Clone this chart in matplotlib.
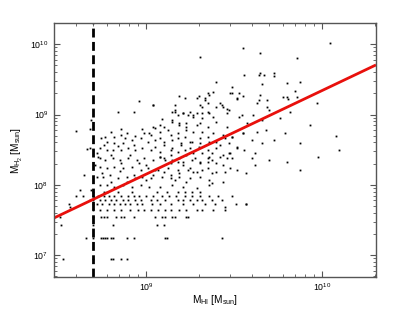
import numpy as np
import matplotlib
matplotlib.use('Agg')
import matplotlib.pyplot as plt
from matplotlib.ticker import NullFormatter, LogLocator

plt.rcParams['font.family'] = ['Liberation Sans', 'DejaVu Sans']
plt.rcParams['mathtext.fontset'] = 'custom'
plt.rcParams['mathtext.rm'] = 'Liberation Sans'
plt.rcParams['mathtext.it'] = 'Liberation Sans:italic'

# continuous part of the cloud, (log10 M_HI, log10 M_H2)
upper_pts = [
    (9.31, 9.82), (9.55, 9.95), (9.65, 9.88), (10.045, 10.02), (9.86, 9.81),
    (8.96, 9.195), (8.84, 9.04), (8.93, 9.04), (9.04, 9.14), (9.40, 9.465),
    (9.56, 9.565), (9.64, 9.565), (9.65, 9.59), (9.67, 9.565), (9.73, 9.59),
    (9.73, 9.55), (9.66, 9.44), (9.80, 9.45), (9.875, 9.465), (9.85, 9.34),
    (9.49, 9.39), (9.48, 9.31), (9.49, 9.31), (9.53, 9.31), (9.55, 9.27),
    (9.52, 9.22), (9.19, 9.27), (9.22, 9.24), (9.30, 9.27), (9.29, 9.24),
    (9.335, 9.24), (9.35, 9.31), (9.36, 9.28), (9.38, 9.32), (9.65, 9.28),
    (9.78, 9.25), (9.80, 9.25), (9.81, 9.22), (9.86, 9.25), (9.42, 9.17),
    (9.44, 9.11), (9.46, 9.08), (9.97, 9.17), (9.64, 9.21), (9.69, 9.21),
    (9.69, 9.11), (9.63, 9.17), (9.53, 8.97), (9.09, 8.94), (9.165, 9.04),
    (9.18, 9.00), (9.24, 9.00), (9.27, 9.00), (9.32, 9.02), (9.36, 9.02),
    (9.38, 8.97), (9.15, 9.04), (9.21, 9.02), (9.29, 9.02), (9.35, 9.04),
    (9.46, 9.02), (9.61, 9.00), (9.32, 9.11), (9.35, 9.17), (9.165, 9.14),
    (8.60, 8.77), (8.69, 8.92), (8.665, 8.51), (8.68, 8.80),
]

core_pts = [
    (9.15, 8.90), (9.19, 8.85), (9.23, 8.88), (9.31, 8.88), (9.35, 8.825),
    (9.40, 8.90), (9.46, 8.825), (9.04, 8.825), (9.08, 8.85), (8.99, 8.74),
    (9.02, 8.74), (9.08, 8.75), (9.125, 8.78), (9.18, 8.74), (9.23, 8.78),
    (9.27, 8.75), (9.32, 8.75), (9.38, 8.74), (9.44, 8.71), (9.49, 8.68),
    (9.55, 8.74), (9.63, 8.75), (8.89, 8.74), (8.86, 8.71), (8.82, 8.68),
    (8.78, 8.61), (8.82, 8.60), (8.87, 8.60), (8.92, 8.64), (8.97, 8.67),
    (9.01, 8.61), (9.05, 8.64), (9.10, 8.61), (9.15, 8.64), (9.20, 8.60),
    (9.26, 8.61), (9.31, 8.60), (9.36, 8.61), (9.42, 8.57), (9.47, 8.60),
    (9.52, 8.54), (9.56, 8.50), (9.62, 8.455), (8.74, 8.53), (8.78, 8.50),
    (8.81, 8.50), (8.86, 8.50), (8.90, 8.53), (8.94, 8.50), (8.98, 8.53),
    (9.03, 8.50), (9.08, 8.47), (9.14, 8.50), (9.18, 8.47), (9.22, 8.50),
    (9.27, 8.455), (9.32, 8.455), (9.375, 8.455), (9.44, 8.43), (9.48, 8.455),
    (9.60, 8.38), (8.74, 8.38), (8.77, 8.36), (8.81, 8.38), (8.85, 8.36),
    (8.90, 8.38), (8.95, 8.36), (8.99, 8.38), (9.04, 8.36), (9.10, 8.38),
    (9.15, 8.36), (9.21, 8.33), (9.26, 8.36), (9.31, 8.31), (9.35, 8.33),
    (9.40, 8.31), (8.74, 8.26), (8.78, 8.24), (8.82, 8.26), (8.87, 8.24),
    (8.92, 8.26), (8.97, 8.21), (9.01, 8.24), (9.07, 8.21), (9.125, 8.24),
    (9.18, 8.21), (9.24, 8.21), (9.29, 8.185), (9.35, 8.24), (9.40, 8.185),
    (9.45, 8.185), (9.52, 8.21), (9.57, 8.17), (9.62, 8.28), (8.65, 8.14),
    (8.72, 8.11), (8.755, 8.11), (8.795, 8.14), (8.84, 8.10), (8.89, 8.11),
    (8.94, 8.10), (8.98, 8.11), (9.03, 8.10), (9.09, 8.11), (9.14, 8.10),
    (9.19, 8.11), (9.25, 8.10), (9.31, 8.11), (9.36, 8.07), (9.44, 8.04),
    (8.74, 8.00), (8.78, 8.00), (8.82, 7.97), (8.87, 8.00), (8.92, 7.97),
    (8.97, 8.00), (9.02, 7.97), (9.08, 7.97), (9.15, 8.00), (9.21, 7.97),
    (9.29, 7.96), (9.36, 8.00), (8.625, 7.93), (8.69, 7.93), (8.78, 7.90),
    (8.57, 7.69), (9.45, 7.69), (9.57, 7.72),
    (9.08, 8.40), (9.11, 8.36), (9.14, 8.31), (9.18, 8.33), (9.21, 8.28),
    (9.25, 8.24), (9.31, 8.33), (9.35, 8.38), (9.375, 8.36), (9.46, 8.38),
    (9.44, 8.28), (9.48, 8.24), (9.32, 8.21), (9.27, 8.185), (9.19, 8.17),
    (9.14, 8.14), (9.10, 8.185), (9.05, 8.21), (9.165, 8.07), (9.23, 8.04),
    (9.375, 8.17), (9.375, 8.03), (9.04, 8.14),
    (8.745, 8.66), (8.68, 8.53), (8.77, 8.68),
]

mid_pts = [
    (9.04, 9.14), (9.165, 9.07), (9.21, 9.02), (9.25, 9.04), (9.27, 8.97),
    (9.32, 8.95), (9.31, 9.14), (9.335, 9.21), (9.40, 9.11), (9.43, 9.14),
    (9.47, 9.07), (9.52, 9.24), (9.545, 9.00), (9.15, 8.92), (9.19, 8.88),
    (9.23, 8.825), (9.29, 8.85), (9.10, 8.825), (9.05, 8.81), (9.03, 8.71),
    (9.08, 8.67), (9.14, 8.71), (9.18, 8.67), (9.22, 8.68), (9.25, 8.61),
    (9.31, 8.67), (9.35, 8.68), (9.40, 8.61), (9.45, 8.67), (9.49, 8.68),
    (9.55, 8.74), (9.05, 8.54), (9.10, 8.57), (9.15, 8.53), (9.20, 8.57),
    (9.25, 8.53), (9.30, 8.54), (9.35, 8.50), (9.40, 8.53), (9.47, 8.455),
    (9.52, 8.53), (9.08, 8.40), (9.14, 8.43), (9.19, 8.38), (9.23, 8.43),
    (9.28, 8.38), (9.36, 8.40), (9.42, 8.40), (9.49, 8.38),
    (8.73, 8.40), (8.80, 8.43), (8.86, 8.31), (8.91, 8.43), (8.96, 8.31),
    (9.00, 8.28), (8.75, 8.17), (8.85, 8.19), (8.93, 8.14), (9.00, 8.07),
    (8.80, 8.04), (8.89, 8.04), (8.71, 8.28), (8.72, 8.45), (8.76, 8.57),
    (8.84, 8.55), (8.93, 8.57), (8.88, 8.66), (8.94, 8.70), (8.80, 8.75),
    (8.86, 8.80), (8.98, 8.80),
]

right_pts = [
    (9.70, 9.07), (9.76, 8.95), (9.82, 9.04), (9.93, 8.85), (9.68, 8.78),
    (9.73, 8.64), (9.79, 8.74), (9.875, 8.60), (10.10, 8.50), (10.08, 8.70),
    (9.98, 8.40), (9.875, 8.21), (9.70, 8.36), (9.66, 8.60), (9.60, 8.64),
    (9.80, 8.33), (9.575, 8.88), (9.66, 8.92),
]

# low-mass M_H2 values are quantised in steps of ~8.8e6 M_sun
h2_step = 8.8e6
row_mult = [1, 2, 3, 4, 5, 6, 7, 8, 9]
row_logmhi = [
    [8.53, 8.70, 8.80, 8.81, 8.86, 8.89],
    [8.66, 8.70, 8.745, 8.755, 8.77, 8.78, 8.80, 8.81, 8.89, 8.93, 9.11, 9.12, 9.43],
    [8.52, 8.70, 8.81, 9.06, 9.10],
    [8.51, 8.70, 8.745, 8.76, 8.78, 8.83, 8.86, 8.875, 8.93, 9.05, 9.09, 9.11,
     9.15, 9.165, 9.23, 9.24],
    [8.70, 8.74, 8.78, 8.82, 8.86, 8.91, 8.955, 8.99, 9.03, 9.07, 9.11, 9.14,
     9.19, 9.23, 9.29, 9.32, 9.38, 9.45],
    [8.56, 8.70, 8.72, 8.75, 8.79, 8.82, 8.85, 8.88, 8.91, 8.95, 8.98, 9.035,
     9.08, 9.14, 9.21, 9.27, 9.335, 9.39, 9.51, 9.57],
    [8.68, 8.70, 8.74, 8.77, 8.80, 8.83, 8.87, 8.90, 8.94, 8.97, 9.03, 9.06,
     9.11, 9.18, 9.21, 9.25, 9.29, 9.32, 9.375, 9.43],
    [8.60, 8.64, 8.70, 8.73, 8.76, 8.79, 8.82, 8.86, 8.90, 8.93, 8.96, 9.00,
     9.04, 9.09, 9.13, 9.17, 9.22, 9.26, 9.31, 9.36, 9.41, 9.49],
    [8.70, 8.76, 8.84, 8.92, 9.06, 9.12, 9.18, 9.22, 9.26, 9.31],
]

# fit: log M_H2 = slope * log M_HI + icpt
fit_slope = 1.19
fit_icpt = -2.56
hi_limit = 5.0e8

cloud = np.array(upper_pts + core_pts + mid_pts + right_pts)
mhi = list(10 ** cloud[:, 0])
mh2 = list(10 ** cloud[:, 1])
for k, xs in zip(row_mult, row_logmhi):
    for lx in xs:
        mhi.append(10 ** lx)
        mh2.append(k * h2_step)

fig = plt.figure(figsize=(4.15, 3.12), dpi=100)
ax = fig.add_axes([0.130, 0.112, 0.776, 0.814])

xlim = (3.0e8, 2.03e10)
ylim = (4.87e6, 2.0e10)

ax.plot(mhi, mh2, 's', color='black', markersize=1.3, markeredgewidth=0)
xf = np.array(xlim)
ax.plot(xf, 10 ** (fit_slope * np.log10(xf) + fit_icpt), color='#e8100c', lw=2.0,
        solid_capstyle='butt')
ax.axvline(hi_limit, color='black', lw=2.0, linestyle=(0, (3.2, 1.6)))

ax.set_xscale('log')
ax.set_yscale('log')
ax.set_xlim(*xlim)
ax.set_ylim(*ylim)
ax.xaxis.set_minor_locator(LogLocator(base=10, subs=np.arange(2, 10)))
ax.yaxis.set_minor_locator(LogLocator(base=10, subs=np.arange(2, 10)))
ax.xaxis.set_minor_formatter(NullFormatter())
ax.yaxis.set_minor_formatter(NullFormatter())

for s in ax.spines.values():
    s.set_color('#555555')
    s.set_linewidth(1.0)
ax.tick_params(which='both', direction='in', top=True, right=True,
               colors='#555555', labelcolor='black', labelsize=6.3)
ax.tick_params(which='major', length=4, width=0.8)
ax.tick_params(axis='x', which='major', pad=3)
ax.tick_params(axis='y', which='major', pad=4)
ax.tick_params(which='minor', length=2, width=0.6)

ax.set_xlabel(r'M$_{\rm HI}$ [M$_{\rm sun}$]', fontsize=7.3)
ax.set_ylabel(r'M$_{\rm H_2}$ [M$_{\rm sun}$]', fontsize=7.3)
ax.xaxis.set_label_coords(0.5, -0.063)
ax.yaxis.set_label_coords(-0.09, 0.5)

fig.savefig('out.png', dpi=100)
